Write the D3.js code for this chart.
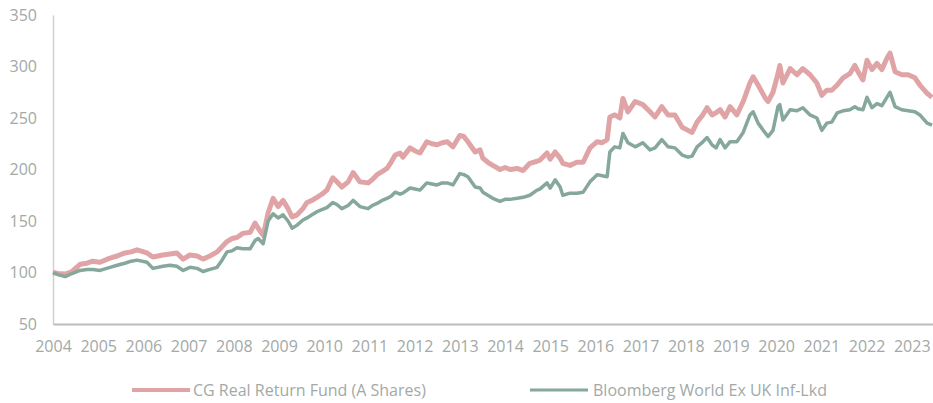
<!DOCTYPE html>
<html>
<head>
<meta charset="utf-8">
<script src="https://cdn.jsdelivr.net/npm/d3@7"></script>
<style>
  html, body { margin: 0; padding: 0; background: #ffffff; }
  svg { display: block; }
  text { font-family: "Open Sans", sans-serif; }
</style>
</head>
<body>
<svg id="chart" width="933" height="403"></svg>
<script>
// Time positions (decimal years)
const dates = [2004.00,2004.11,2004.27,2004.42,2004.60,2004.75,2004.88,2005.04,2005.26,2005.42,2005.59,2005.73,2005.86,
2006.08,2006.21,2006.43,2006.59,2006.74,2006.88,2007.03,2007.19,2007.32,2007.47,2007.63,2007.74,2007.85,2007.96,
2008.07,2008.20,2008.36,2008.47,2008.54,2008.65,2008.76,2008.87,2008.98,2009.09,2009.20,2009.29,2009.40,2009.53,
2009.62,2009.73,2009.84,2009.95,2010.06,2010.19,2010.28,2010.39,2010.53,2010.64,2010.79,2010.97,2011.06,2011.17,
2011.28,2011.39,2011.48,2011.57,2011.68,2011.74,2011.90,2012.01,2012.12,2012.27,2012.38,2012.50,2012.61,2012.72,
2012.85,2013.00,2013.09,2013.18,2013.34,2013.45,2013.51,2013.62,2013.73,2013.89,2014.00,2014.11,2014.27,2014.40,
2014.55,2014.71,2014.77,2014.93,2015.00,2015.11,2015.22,2015.28,2015.44,2015.59,2015.73,2015.88,2016.04,2016.15,
2016.26,2016.32,2016.43,2016.54,2016.61,2016.72,2016.88,2017.05,2017.21,2017.32,2017.47,2017.61,2017.76,2017.92,
2018.05,2018.14,2018.25,2018.36,2018.47,2018.58,2018.67,2018.76,2018.87,2018.98,2019.13,2019.27,2019.42,2019.49,
2019.60,2019.75,2019.82,2019.93,2020.04,2020.08,2020.15,2020.31,2020.46,2020.59,2020.75,2020.90,2021.01,2021.12,
2021.23,2021.35,2021.48,2021.63,2021.74,2021.81,2021.92,2022.01,2022.12,2022.23,2022.34,2022.45,2022.52,2022.63,
2022.78,2022.92,2023.07,2023.18,2023.34,2023.45];

const cgFund = [100,99,98.5,101,108,109,111,110,114,116,119,120,122,
119,115,117,118,119,113,117,116,113,116,120,125,130,133,
134,138,139,148,143,136,158,172,164,170,162,154,156,162,
168,170,173,176,180,192,188,183,188,197,188,187,190,195,
198,201,207,214,216,212,221,218,216,227,225,224,226,227,
222,233,232,227,217,219,211,207,204,200,202,200,201,199,
206,208,209,216,210,217,211,206,204,207,207,221,227,226,
229,251,253,250,269,256,266,263,256,251,261,253,253,241,
238,236,246,252,260,253,255,258,251,261,253,266,284,290,
282,270,266,275,293,301,284,298,292,298,292,284,272,277,
277,282,289,293,301,295,287,306,297,303,297,308,313,295,
292,292,289,282,274,270];

const bloomberg = [100,98,96,99,102,103,103,102,105,107,109,111,112,
110,104,106,107,106,102,105,104,101,103,105,112,120,121,
124,123,123,131,133,128,150,157,153,156,150,143,146,151,
153,156,159,161,163,168,166,162,165,170,164,162,165,167,
170,172,174,178,176,177,182,181,180,187,186,185,187,187,
185,196,195,193,183,182,178,175,172,169,171,171,172,173,
175,180,181,187,182,190,183,175,177,177,178,188,195,194,
193,217,222,221,235,226,222,226,219,221,229,222,221,214,
212,213,222,226,231,224,221,229,221,227,227,236,253,256,
245,236,232,238,261,263,248,258,257,260,253,250,238,245,
246,255,257,258,261,259,258,270,260,264,262,270,275,261,
258,257,256,253,245,243];

const yTicks = [50,100,150,200,250,300,350];
const xTicks = [2004,2005,2006,2007,2008,2009,2010,2011,2012,2013,2014,2015,2016,2017,2018,2019,2020,2021,2022,2023];
const seriesNames = ["CG Real Return Fund (A Shares)", "Bloomberg World Ex UK Inf-Lkd"];

const svg = d3.select("#chart");
const margin = {left: 53, right: 0, top: 15, bottom: 79};
const W = 933, H = 403;
const x = d3.scaleLinear().domain([2004, 2023.47]).range([margin.left, W - margin.right]);
const y = d3.scaleLinear().domain([50, 350]).range([H - margin.bottom, margin.top]);

const labelColor = "#a2a9a6";

// Y axis
const yAxis = svg.append("g").attr("transform", `translate(${margin.left},0)`)
  .call(d3.axisLeft(y).tickValues(yTicks).tickSize(0).tickPadding(16));
yAxis.select(".domain").attr("stroke", "#cdd1cf").attr("stroke-width", 1.5);
yAxis.selectAll("text").attr("fill", labelColor).style("font-size", "16px");

// X axis
const xAxis = svg.append("g").attr("transform", `translate(0,${H - margin.bottom})`)
  .call(d3.axisBottom(x).tickValues(xTicks).tickFormat(d3.format("d")).tickSize(0).tickPadding(17));
xAxis.select(".domain").attr("stroke", "#b9bdbb").attr("stroke-width", 2);
xAxis.selectAll("text").attr("fill", labelColor).style("font-size", "16px");

const line = d3.line().x((d, i) => x(dates[i])).y(d => y(d)).curve(d3.curveLinear);

svg.append("path").datum(cgFund)
  .attr("fill", "none").attr("stroke", "#e0a4a6").attr("stroke-width", 5)
  .attr("stroke-linejoin", "round").attr("d", line);

svg.append("path").datum(bloomberg)
  .attr("fill", "none").attr("stroke", "#86a79b").attr("stroke-width", 3.5)
  .attr("stroke-linejoin", "round").attr("d", line);

// Legend
const legend = [
  {name: seriesNames[0], color: "#e0a4a6", w: 4, x0: 132, gap: 61},
  {name: seriesNames[1], color: "#86a79b", w: 3, x0: 530, gap: 63}
];
const lg = svg.append("g");
legend.forEach(l => {
  lg.append("line").attr("x1", l.x0).attr("x2", l.x0 + 58).attr("y1", 390).attr("y2", 390)
    .attr("stroke", l.color).attr("stroke-width", l.w);
  lg.append("text").attr("x", l.x0 + l.gap).attr("y", 390).attr("dy", "0.35em")
    .attr("fill", labelColor).style("font-size", "16px").text(l.name);
});
</script>
</body>
</html>
